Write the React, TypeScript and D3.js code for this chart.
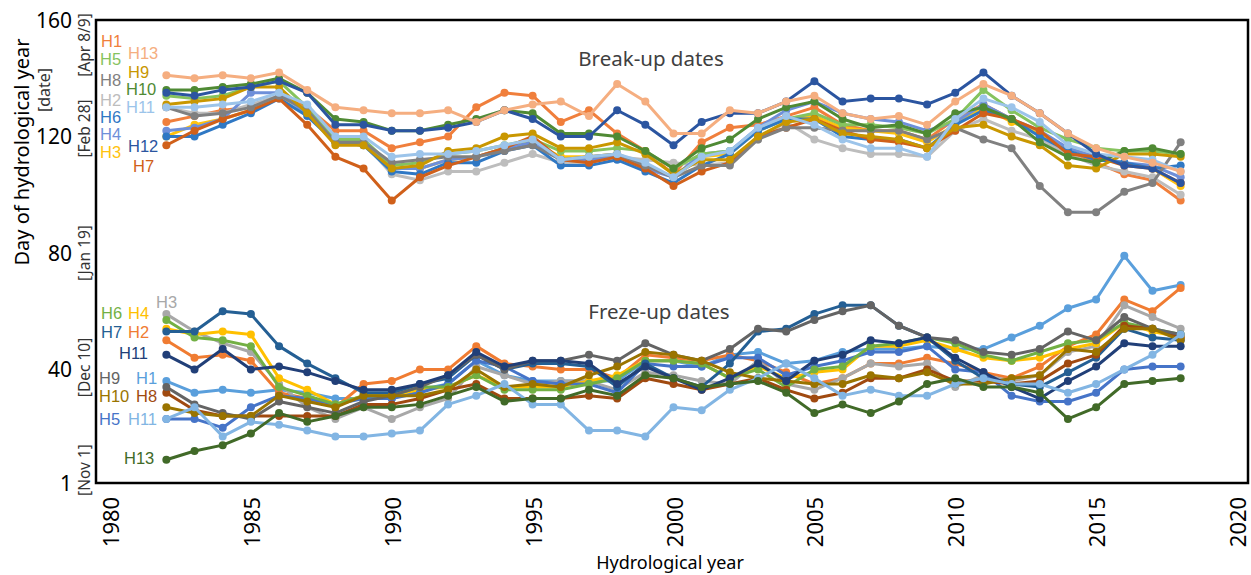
import React from "react";
import * as d3 from "d3";

const years = [1982,1983,1984,1985,1986,1987,1988,1989,1990,1991,1992,1993,1994,1995,1996,1997,1998,1999,2000,2001,2002,2003,2004,2005,2006,2007,2008,2009,2010,2011,2012,2013,2014,2015,2016,2017,2018];

// Break-up dates (day of hydrological year)
const breakH1 = [125,127,129,130,134,130,122,122,116,118,120,130,135,134,125,129,121,115,107,118,123,124,127,130,124,122,122,119,126,131,126,121,115,111,107,105,98];
const breakH2 = [130,128,128,131,134,128,119,118,107,105,108,108,111,114,111,111,113,112,111,110,111,119,125,119,116,114,114,113,122,126,122,119,114,110,108,106,100];
const breakH3 = [120,124,126,129,134,129,118,117,109,109,112,113,116,118,113,113,114,110,106,113,114,122,126,127,123,122,121,118,124,130,125,121,116,113,111,109,103];
const breakH4 = [122,123,126,135,135,128,119,118,109,109,112,113,116,118,112,112,113,109,106,114,115,123,129,132,128,126,125,122,125,131,126,122,116,113,111,110,106];
const breakH5 = [134,133,134,137,139,130,119,119,110,111,114,115,117,119,115,115,116,115,109,114,115,122,126,128,124,124,123,121,126,136,129,123,119,116,115,115,114];
const breakH6 = [120,120,124,128,133,127,118,117,108,107,111,111,115,117,110,110,112,108,104,110,114,122,126,126,120,119,119,116,124,129,126,120,115,112,111,109,110];
const breakH7 = [117,122,126,129,133,124,113,109,98,106,110,113,116,120,112,111,113,109,103,108,111,120,123,126,122,119,118,116,122,128,126,122,114,113,110,109,104];
const breakH8 = [130,127,128,130,134,129,118,118,111,112,113,113,115,117,112,113,114,110,106,110,110,119,123,123,122,122,122,119,123,119,116,103,94,94,101,104,118];
const breakH9 = [131,132,133,137,137,128,117,117,109,110,115,116,120,121,116,116,118,114,107,112,112,120,125,126,121,120,119,116,123,124,120,117,110,109,114,114,113];
const breakH10 = [136,136,137,138,140,135,126,125,122,122,124,126,129,128,121,121,120,115,109,116,119,126,130,132,126,123,124,121,128,130,126,118,113,111,115,116,114];
const breakH11 = [130,130,131,132,135,131,120,120,113,114,114,115,117,119,112,113,114,111,106,113,115,123,127,124,119,116,116,113,126,133,130,125,117,114,113,112,108];
const breakH12 = [135,134,136,137,139,135,124,124,122,122,123,125,129,126,120,120,129,124,117,125,128,128,132,139,132,133,133,131,135,142,134,128,121,114,110,109,104];
const breakH13 = [141,140,141,140,142,136,130,129,128,128,129,125,129,131,132,127,138,132,121,121,129,128,132,134,128,126,127,124,132,138,134,128,121,116,113,111,108];

// Freeze-up dates (day of hydrological year)
const freezeH1 = [36,32,33,32,33,32,30,30,30,33,35,43,38,36,36,36,36,43,43,41,45,46,42,43,46,47,47,48,47,47,51,55,61,64,79,67,69];
const freezeH2 = [50,44,45,43,32,30,27,35,36,40,40,48,42,41,40,40,37,45,44,43,45,43,39,35,37,42,42,44,42,39,37,41,48,52,64,60,68];
const freezeH3 = [59,53,49,46,35,27,23,27,23,27,30,41,38,35,36,36,33,39,38,36,35,43,35,33,37,42,41,42,34,38,36,38,46,48,62,58,54];
const freezeH4 = [54,52,53,52,37,33,28,31,31,33,34,38,34,34,34,36,38,43,43,42,37,41,37,39,40,48,48,50,47,44,43,44,47,49,56,53,51];
const freezeH5 = [23,23,20,27,31,30,28,30,30,32,35,43,41,36,35,35,32,42,41,41,44,44,38,41,43,46,46,48,40,39,31,29,29,32,40,41,41];
const freezeH6 = [57,51,50,48,34,31,28,31,31,34,34,38,33,33,33,35,37,43,43,42,37,40,34,40,41,48,49,51,49,45,43,46,49,50,56,54,52];
const freezeH7 = [53,53,60,59,48,42,37,32,32,35,37,45,40,42,42,41,34,42,37,34,42,53,54,59,62,62,55,51,43,37,35,34,39,44,54,51,50];
const freezeH8 = [32,26,24,24,24,24,24,28,28,30,33,35,30,30,30,31,30,37,35,33,35,37,33,30,32,37,37,40,36,36,35,36,42,45,55,54,51];
const freezeH9 = [34,28,25,23,29,27,25,29,31,34,38,45,40,43,43,45,43,49,45,43,47,54,53,57,60,62,55,51,50,46,45,47,53,50,58,54,52];
const freezeH10 = [27,25,24,24,31,29,27,31,31,31,33,40,34,35,34,38,41,46,45,43,39,37,36,35,35,38,37,39,35,35,37,38,47,46,54,54,50];
const freezeH11 = [45,40,47,40,41,39,36,33,33,35,38,46,41,43,43,42,35,41,37,33,37,42,36,43,45,50,49,51,44,39,34,30,36,41,49,48,48];
const freezeH11b = [23,27,17,22,21,19,17,17,18,19,28,31,35,28,28,19,19,17,27,26,33,37,42,37,31,33,31,31,35,37,35,35,32,35,40,45,52];
const freezeH13 = [9,12,14,18,25,22,24,27,27,28,31,34,29,30,30,33,31,38,37,34,35,36,32,25,28,25,29,35,37,34,34,32,23,27,35,36,37];

const xTicks = [1980, 1985, 1990, 1995, 2000, 2005, 2010, 2015, 2020];
const yTicks = [160, 120, 80, 40, 1];
const dateTickLabels = ["[Apr 8/9]", "[Feb 28]", "[Jan 19]", "[Dec 10]", "[Nov 1]"];

const breakSeries = [
  { name: "H1", values: breakH1, color: "#F07F3C" },
  { name: "H2", values: breakH2, color: "#BDBDBD" },
  { name: "H3", values: breakH3, color: "#FFC20E" },
  { name: "H4", values: breakH4, color: "#6E8FD9" },
  { name: "H5", values: breakH5, color: "#86C35E" },
  { name: "H6", values: breakH6, color: "#2F78C4" },
  { name: "H7", values: breakH7, color: "#D0601A" },
  { name: "H8", values: breakH8, color: "#808080" },
  { name: "H9", values: breakH9, color: "#C99700" },
  { name: "H10", values: breakH10, color: "#4F8A34" },
  { name: "H11", values: breakH11, color: "#9CC4EA" },
  { name: "H12", values: breakH12, color: "#2B55A0" },
  { name: "H13", values: breakH13, color: "#F5AE80" },
];

const freezeSeries = [
  { name: "H1", values: freezeH1, color: "#5A9FDC" },
  { name: "H2", values: freezeH2, color: "#F07C32" },
  { name: "H3", values: freezeH3, color: "#A8A8A8" },
  { name: "H4", values: freezeH4, color: "#FFC000" },
  { name: "H5", values: freezeH5, color: "#4674C8" },
  { name: "H6", values: freezeH6, color: "#72B044" },
  { name: "H7", values: freezeH7, color: "#245F94" },
  { name: "H8", values: freezeH8, color: "#A04A10" },
  { name: "H9", values: freezeH9, color: "#646464" },
  { name: "H10", values: freezeH10, color: "#9A7400" },
  { name: "H11", values: freezeH11, color: "#213F78" },
  { name: "H11", values: freezeH11b, color: "#82B5E3" },
  { name: "H13", values: freezeH13, color: "#416A28" },
];

// series name labels at the left (text, colour, position)
const breakLabels = [
  { t: "H1", c: "#F07F3C", x: 101, y: 47 },
  { t: "H5", c: "#86C35E", x: 100, y: 65 },
  { t: "H8", c: "#808080", x: 100, y: 86 },
  { t: "H2", c: "#BDBDBD", x: 100, y: 106 },
  { t: "H6", c: "#2F78C4", x: 100, y: 123 },
  { t: "H4", c: "#6E8FD9", x: 100, y: 140 },
  { t: "H3", c: "#FFC20E", x: 100, y: 158 },
  { t: "H13", c: "#F5AE80", x: 128, y: 59 },
  { t: "H9", c: "#C99700", x: 128, y: 78 },
  { t: "H10", c: "#4F8A34", x: 126, y: 95 },
  { t: "H11", c: "#9CC4EA", x: 126, y: 113 },
  { t: "H12", c: "#2B55A0", x: 128, y: 152 },
  { t: "H7", c: "#D0601A", x: 133, y: 172 },
];
const freezeLabels = [
  { t: "H3", c: "#A8A8A8", x: 156, y: 308 },
  { t: "H6", c: "#72B044", x: 101, y: 319 },
  { t: "H4", c: "#FFC000", x: 128, y: 319 },
  { t: "H7", c: "#245F94", x: 101, y: 338 },
  { t: "H2", c: "#F07C32", x: 128, y: 338 },
  { t: "H11", c: "#213F78", x: 119, y: 359 },
  { t: "H9", c: "#646464", x: 99, y: 384 },
  { t: "H1", c: "#5A9FDC", x: 136, y: 384 },
  { t: "H10", c: "#9A7400", x: 99, y: 402 },
  { t: "H8", c: "#A04A10", x: 136, y: 402 },
  { t: "H5", c: "#4674C8", x: 99, y: 425 },
  { t: "H11", c: "#82B5E3", x: 128, y: 425 },
  { t: "H13", c: "#416A28", x: 124, y: 464 },
];

const FONT = "'Noto Sans', 'Open Sans', sans-serif";
const LABEL_FONT = "'Liberation Sans', Arial, sans-serif";

export default function App() {
  const W = 1251, H = 575;
  const left = 96, right = 1248, top = 20, bottom = 483;
  const x = d3.scaleLinear().domain([1980, 2020]).range([110, 1237]);
  const y = d3.scaleLinear().domain([1, 160]).range([bottom, top]);
  const line = d3.line<number>().x((_, i) => x(years[i])).y((d) => y(d));
  const dateOffsets = [25, -8, 0, -2, -13];

  const drawSeries = (s: { name: string; values: number[]; color: string }, key: string) => (
    <g key={key}>
      <path d={line(s.values) || ""} fill="none" stroke={s.color} strokeWidth={3} strokeLinejoin="round" />
      {s.values.map((v, i) => (
        <circle key={i} cx={x(years[i])} cy={y(v)} r={4} fill={s.color} />
      ))}
    </g>
  );

  return (
    <svg width={W} height={H} style={{ position: "absolute", left: 0, top: 0, background: "#fff" }} fontFamily={FONT}>
      <rect x={0} y={0} width={W} height={H} fill="#fff" />
      {breakSeries.map((s, i) => drawSeries(s, "b" + i))}
      {freezeSeries.map((s, i) => drawSeries(s, "f" + i))}
      <rect x={left} y={top} width={right - left} height={bottom - top} fill="none" stroke="#000" strokeWidth={2.5} />

      {xTicks.map((t) => (
        <text key={t} transform={`translate(${x(t)},522) rotate(-90)`} textAnchor="middle" dominantBaseline="central" fontSize={22} fill="#000">
          {t}
        </text>
      ))}
      {yTicks.map((t) => (
        <text key={t} x={72} y={y(t)} textAnchor="end" dominantBaseline="central" fontSize={21} fill="#000">
          {t}
        </text>
      ))}
      {yTicks.map((t, i) => (
        <text key={"d" + t} transform={`translate(84,${y(t) + dateOffsets[i]}) rotate(-90)`} textAnchor="middle" dominantBaseline="central" fontSize={15.5} fill="#333">
          {dateTickLabels[i]}
        </text>
      ))}

      <text transform="translate(21,152) rotate(-90)" textAnchor="middle" dominantBaseline="central" fontSize={20} fill="#000">
        Day of hydrological year
      </text>
      <text transform="translate(44,90) rotate(-90)" textAnchor="middle" dominantBaseline="central" fontSize={16} fill="#333">
        [date]
      </text>
      <text x={670} y={569} textAnchor="middle" fontSize={18} fill="#000">
        Hydrological year
      </text>
      <text x={651} y={66} textAnchor="middle" fontSize={20.5} fill="#404040">
        Break-up dates
      </text>
      <text x={659} y={319} textAnchor="middle" fontSize={20.5} fill="#404040">
        Freze-up dates
      </text>

      {breakLabels.map((l, i) => (
        <text key={"bl" + i} x={l.x} y={l.y} fontSize={16.5} fontFamily={LABEL_FONT} fill={l.c}>
          {l.t}
        </text>
      ))}
      {freezeLabels.map((l, i) => (
        <text key={"fl" + i} x={l.x} y={l.y} fontSize={16.5} fontFamily={LABEL_FONT} fill={l.c}>
          {l.t}
        </text>
      ))}
    </svg>
  );
}
